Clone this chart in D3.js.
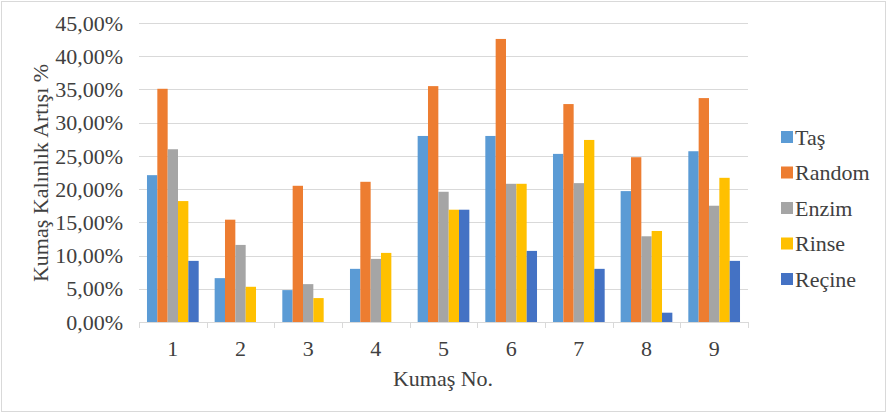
<!DOCTYPE html>
<html><head><meta charset="utf-8">
<script src="https://cdn.jsdelivr.net/npm/d3@7"></script>
</head><body style="margin:0"><svg id="c" width="888" height="414" style="display:block"></svg>
<script>
const categories = ["1","2","3","4","5","6","7","8","9"];
const seriesNames = ["Taş","Random","Enzim","Rinse","Reçine"];
const tas    = [22.1, 6.6, 4.8, 8.0, 28.0, 28.0, 25.3, 19.7, 25.7];
const random = [35.1, 15.4, 20.5, 21.1, 35.5, 42.6, 32.8, 24.8, 33.7];
const enzim  = [26.0, 11.6, 5.7, 9.5, 19.6, 20.8, 20.9, 12.9, 17.5];
const rinse  = [18.2, 5.3, 3.6, 10.4, 16.9, 20.8, 27.4, 13.7, 21.7];
const recine = [9.2, 0, 0, 0, 16.9, 10.7, 8.0, 1.4, 9.2];
const yTicks = [0,5,10,15,20,25,30,35,40,45];
const colors = ["#5B9BD5","#ED7D31","#A5A5A5","#FFC000","#4472C4"];
const seriesValues = [tas, random, enzim, rinse, recine];
const FONT = "Liberation Serif";
const FS = 22;
const TXT = "#404040";

const svg = d3.select("#c");
svg.append("rect").attr("x",1.5).attr("y",1.5).attr("width",884).attr("height",410)
  .attr("fill","#fff").attr("stroke","#d9d9d9");

const x0 = d3.scaleBand().domain(categories).range([139,748]).paddingInner(0).paddingOuter(0);
const groupPad = 0.236;
const x1 = d3.scaleBand().domain(seriesNames).range([x0.bandwidth()*groupPad/2, x0.bandwidth()*(1-groupPad/2)]);
const y = d3.scaleLinear().domain([0,45]).range([322,23]);

function txt(sel){ return sel.attr("font-family",FONT).attr("font-size",FS).attr("fill",TXT); }

svg.append("g").selectAll("line").data(yTicks.slice(1)).join("line")
  .attr("x1",139).attr("x2",748).attr("y1",d=>Math.round(y(d))+0.5).attr("y2",d=>Math.round(y(d))+0.5)
  .attr("stroke","#d9d9d9").attr("stroke-width",1);

const fmt = v => v.toFixed(2).replace(".",",") + "%";
txt(svg.append("g").selectAll("text").data(yTicks).join("text")
  .attr("x",123).attr("y",d=>y(d)).attr("dy","0.35em").attr("text-anchor","end")).text(fmt);

const g = svg.append("g");
categories.forEach((c,i)=>{
  seriesNames.forEach((s,j)=>{
    const v = seriesValues[j][i];
    if (v<=0) return;
    g.append("rect").attr("x",x0(c)+x1(s)).attr("width",x1.bandwidth())
      .attr("y",y(v)).attr("height",y(0)-y(v)).attr("fill",colors[j]);
  });
});

const xa = svg.append("g");
xa.append("line").attr("x1",139).attr("x2",748).attr("y1",322.5).attr("y2",322.5).attr("stroke","#d9d9d9");
const bounds = categories.map(c=>x0(c)).concat([x0.range()[1]]);
xa.selectAll("line.t").data(bounds).join("line").attr("class","t")
  .attr("x1",d=>Math.round(d)+0.5).attr("x2",d=>Math.round(d)+0.5).attr("y1",322).attr("y2",328).attr("stroke","#d9d9d9");
txt(xa.selectAll("text").data(categories).join("text")
  .attr("x",d=>x0(d)+x0.bandwidth()/2).attr("y",348).attr("dy","0.35em")
  .attr("text-anchor","middle")).text(d=>d);

txt(svg.append("text").attr("x",443).attr("y",378).attr("dy","0.35em").attr("text-anchor","middle"))
  .text("Kumaş No.");
txt(svg.append("text").attr("transform","translate(40,173) rotate(-90)").attr("dy","0.35em")
  .attr("text-anchor","middle")).text("Kumaş Kalınlık Artışı  %");

const lg = svg.append("g");
seriesNames.forEach((s,j)=>{
  const yy = 137 + j*35.5;
  lg.append("rect").attr("x",781).attr("y",yy-6).attr("width",12).attr("height",12).attr("fill",colors[j]);
  txt(lg.append("text").attr("x",795).attr("y",yy).attr("dy","0.35em")).text(s);
});
</script></body></html>
